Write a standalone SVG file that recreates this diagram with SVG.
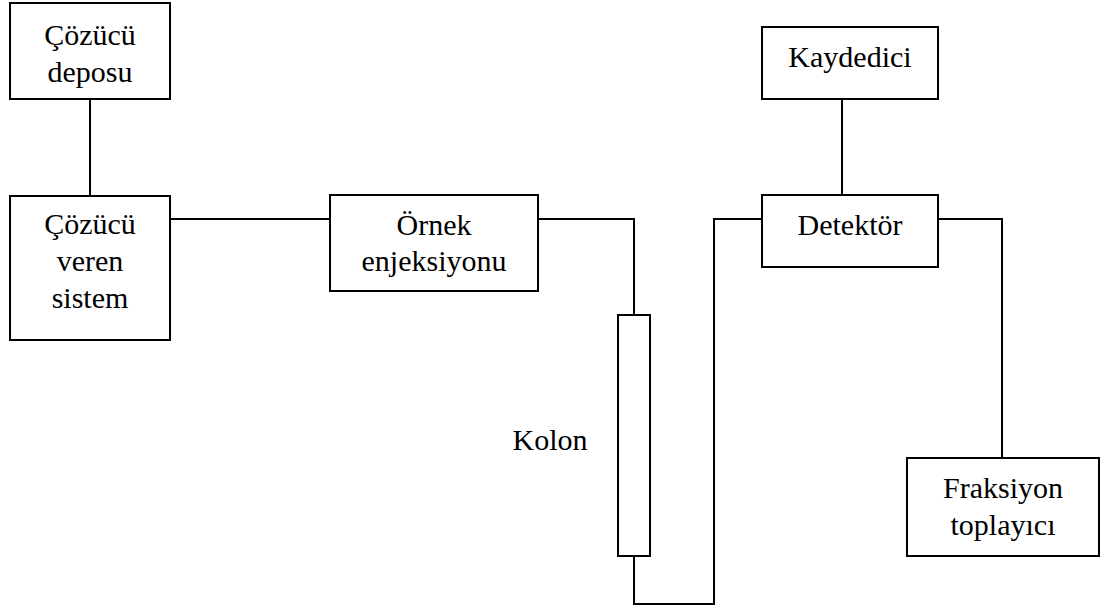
<svg xmlns="http://www.w3.org/2000/svg" width="1111" height="608" viewBox="0 0 1111 608">
<style>
.box{fill:#fff;stroke:#000;stroke-width:2}
.ln{fill:none;stroke:#000;stroke-width:2}
</style>
<rect width="1111" height="608" fill="#fff"/>
<g id="connectors">
<path class="ln" d="M90 99V196"/>
<path class="ln" d="M170 219H330"/>
<path class="ln" d="M538 219H634V315"/>
<path class="ln" d="M634 556V604H714V219H762"/>
<path class="ln" d="M842 99V195"/>
<path class="ln" d="M938 219H1002V458"/>
</g>
<g font-family="Liberation Serif, Times New Roman, Tinos, Noto Serif, DejaVu Serif, serif" font-size="30" fill="#000" text-anchor="middle">
<g id="cozucu-deposu">
<rect class="box" x="10" y="3" width="160" height="96"/>
<text x="90" y="45">Çözücü</text>
<text x="90" y="82">deposu</text>
</g>
<g id="cozucu-veren-sistem">
<rect class="box" x="10" y="196" width="160" height="144"/>
<text x="90" y="234">Çözücü</text>
<text x="90" y="271">veren</text>
<text x="90" y="308">sistem</text>
</g>
<g id="ornek-enjeksiyonu">
<rect class="box" x="330" y="195" width="208" height="96"/>
<text x="434" y="235">Örnek</text>
<text x="434" y="271">enjeksiyonu</text>
</g>
<g id="kolon">
<rect class="box" x="618" y="315" width="32" height="241"/>
<text x="550" y="450">Kolon</text>
</g>
<g id="kaydedici">
<rect class="box" x="762" y="27" width="176" height="72"/>
<text x="850" y="67">Kaydedici</text>
</g>
<g id="detektor">
<rect class="box" x="762" y="195" width="176" height="72"/>
<text x="850" y="235">Detektör</text>
</g>
<g id="fraksiyon-toplayici">
<rect class="box" x="907" y="458" width="192" height="98"/>
<text x="1003" y="498">Fraksiyon</text>
<text x="1003" y="535">toplayıcı</text>
</g>
</g>
</svg>
